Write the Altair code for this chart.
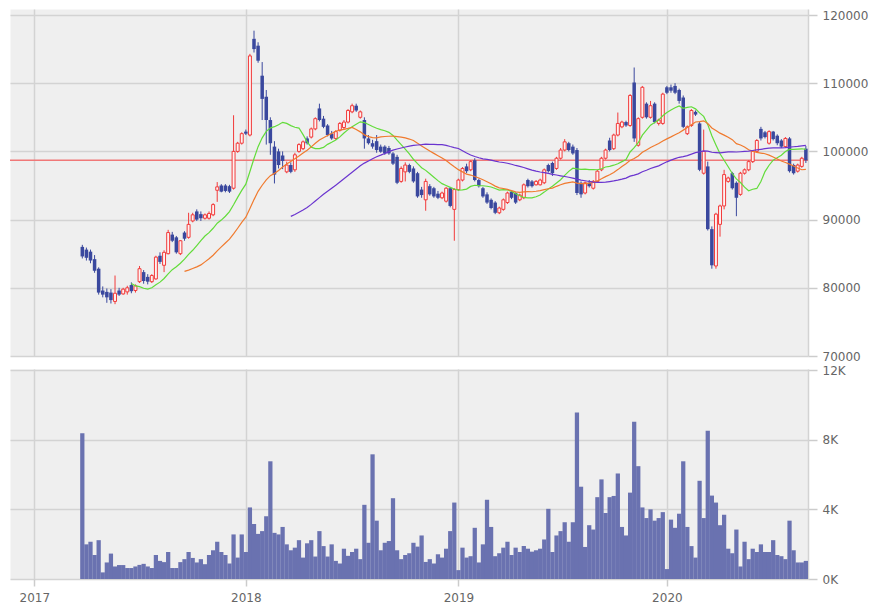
import altair as alt
import pandas as pd

# ---- weekly candles (prices in thousands of yen) ----
opens = [
    86.0, 85.6, 85.3, 84.2, 82.8, 79.6, 79.4, 79.3, 78.0, 79.6,
    79.1, 79.4, 80.4, 79.6, 80.9, 82.3, 81.6, 80.9, 81.3, 84.7,
    83.3, 85.0, 87.8, 87.4, 85.0, 88.1, 87.4, 89.8, 91.2, 90.8,
    90.2, 90.2, 90.7, 94.3, 95.0, 95.0, 94.9, 94.6, 100.0, 101.2,
    102.9, 102.4, 116.5, 115.5, 111.1, 108.0, 104.6, 100.7, 100.0, 99.4,
    97.0, 98.0, 97.3, 100.0, 100.4, 101.9, 102.1, 103.3, 106.3, 104.8,
    103.8, 102.6, 101.9, 103.1, 103.5, 104.3, 105.8, 106.7, 105.0, 104.6,
    101.9, 101.2, 101.5, 100.7, 100.7, 100.5, 99.7, 99.2, 95.6, 97.0,
    98.0, 97.5, 96.8, 94.4, 92.9, 94.9, 94.6, 93.8, 93.2, 92.7,
    94.6, 91.5, 94.4, 95.8, 97.8, 97.3, 98.7, 95.8,
    94.6, 93.7, 92.9, 92.5, 91.0, 91.5, 92.5, 94.1, 93.9, 92.9,
    93.2, 95.8, 95.6, 95.1, 95.1, 95.4, 98.0, 98.3, 97.5, 99.0,
    100.2, 101.2, 100.7, 100.2, 95.4, 93.9, 95.4, 94.6, 95.6, 97.3,
    99.0, 101.6, 100.4, 102.4, 103.6, 104.3, 103.8, 110.1, 100.9, 105.0,
    107.0, 105.0, 107.0, 104.1, 104.1, 109.4, 109.4, 109.6, 109.0, 107.9,
    102.6, 103.8, 105.8, 104.1, 96.8, 97.8, 88.6, 83.2, 89.3, 92.0,
    95.6, 96.8, 95.4, 93.7, 96.8, 97.3, 98.5, 100.0, 103.3, 102.8,
    101.2, 102.9, 102.3, 101.6, 100.7, 101.9, 98.0, 97.1, 97.8, 100.4,
]
highs = [
    86.3, 85.9, 85.6, 84.8, 83.0, 80.2, 79.9, 79.8, 81.8, 80.0,
    80.0, 80.3, 80.8, 80.5, 83.2, 82.6, 82.0, 82.0, 84.7, 85.2,
    85.5, 88.5, 88.2, 87.6, 87.0, 88.3, 91.0, 91.0, 91.5, 91.2,
    90.9, 91.2, 92.4, 95.5, 95.2, 95.2, 95.1, 105.3, 101.4, 102.8,
    103.2, 114.3, 117.7, 116.0, 113.1, 109.0, 105.0, 101.5, 100.4, 100.0,
    98.5, 98.4, 99.8, 101.2, 101.6, 102.2, 103.5, 105.0, 107.0, 105.2,
    104.0, 103.0, 103.1, 104.3, 104.6, 106.2, 107.0, 107.0, 106.0, 105.0,
    102.4, 101.7, 102.4, 101.0, 100.9, 100.8, 99.9, 99.5, 97.8, 98.4,
    98.2, 97.8, 97.0, 94.8, 96.0, 95.2, 94.8, 94.2, 94.1, 94.8,
    94.8, 94.6, 96.0, 97.7, 98.2, 98.7, 99.0, 96.0,
    94.8, 94.0, 93.1, 92.7, 91.9, 93.1, 94.1, 94.3, 94.0, 93.8,
    95.3, 96.0, 95.8, 95.8, 96.0, 97.5, 98.2, 98.5, 99.2, 100.5,
    101.8, 101.4, 101.0, 100.5, 95.6, 95.6, 95.8, 95.8, 97.3, 99.2,
    100.4, 102.0, 102.6, 105.7, 104.5, 104.5, 108.4, 112.3, 105.0, 109.6,
    107.2, 107.4, 107.2, 104.8, 108.6, 109.6, 109.8, 110.0, 109.2, 108.2,
    103.8, 106.2, 106.0, 104.3, 103.2, 98.5, 89.0, 91.0, 92.2, 97.3,
    96.3, 97.0, 95.6, 97.0, 97.5, 98.7, 100.2, 101.8, 103.6, 103.0,
    103.1, 103.0, 102.5, 101.8, 102.1, 102.1, 98.2, 98.2, 99.2, 100.8,
]
lows = [
    84.3, 84.0, 83.6, 82.2, 79.0, 78.6, 77.8, 77.7, 77.6, 78.8,
    79.0, 79.0, 79.2, 79.3, 80.7, 80.6, 80.5, 80.7, 81.2, 83.5,
    82.3, 84.9, 86.7, 85.0, 84.8, 86.9, 87.2, 89.6, 89.8, 89.8,
    90.0, 90.0, 90.5, 92.6, 94.0, 94.0, 93.9, 94.4, 99.8, 101.0,
    102.4, 102.2, 114.5, 113.0, 104.6, 101.0, 99.5, 95.3, 97.5, 97.4,
    96.8, 96.8, 97.0, 99.8, 100.2, 101.0, 101.9, 103.1, 104.4, 103.4,
    102.2, 101.7, 101.7, 102.9, 103.3, 104.1, 105.6, 105.8, 104.8, 100.4,
    101.0, 100.4, 99.8, 99.8, 99.5, 99.5, 98.0, 95.2, 95.4, 95.6,
    96.8, 95.4, 93.2, 93.2, 91.3, 93.5, 93.2, 93.0, 93.0, 92.5,
    91.8, 86.9, 94.2, 95.6, 96.8, 97.1, 95.6, 94.7,
    93.2, 92.3, 91.5, 90.8, 90.8, 91.3, 92.3, 93.0, 92.3, 92.7,
    93.0, 94.7, 94.7, 95.0, 95.0, 95.2, 96.9, 96.4, 97.3, 98.8,
    100.0, 100.0, 99.5, 93.6, 93.2, 93.7, 94.7, 94.4, 95.4, 97.1,
    98.8, 100.0, 100.2, 102.2, 103.4, 103.6, 103.6, 101.4, 100.7, 104.8,
    104.8, 104.8, 104.1, 103.8, 103.9, 108.4, 108.6, 108.4, 107.0, 103.4,
    102.4, 103.6, 105.2, 97.1, 96.6, 88.4, 82.8, 82.8, 87.5, 91.5,
    95.4, 94.4, 90.5, 93.5, 96.6, 97.1, 98.3, 99.8, 101.6, 101.9,
    101.0, 101.6, 100.9, 100.5, 100.5, 96.9, 96.6, 96.9, 97.6, 98.3,
]
closes = [
    84.6, 84.4, 84.0, 82.5, 79.3, 79.0, 78.6, 78.2, 79.2, 79.0,
    79.8, 80.0, 79.5, 80.3, 82.8, 81.0, 80.9, 81.8, 84.5, 83.8,
    85.2, 88.1, 86.9, 85.2, 86.9, 87.2, 89.3, 90.7, 90.0, 90.2,
    90.7, 90.9, 92.2, 94.8, 94.1, 94.2, 94.1, 100.0, 101.2, 102.6,
    102.6, 114.0, 115.0, 113.3, 107.7, 104.6, 101.2, 96.6, 98.0, 98.6,
    98.0, 97.0, 99.5, 101.0, 101.4, 101.2, 103.3, 104.8, 104.6, 103.6,
    102.4, 101.9, 102.9, 104.1, 104.3, 106.0, 106.7, 106.0, 105.8, 101.9,
    101.2, 100.7, 100.2, 99.95, 99.7, 99.7, 98.2, 95.4, 97.5, 98.0,
    97.0, 95.6, 93.4, 93.6, 95.6, 93.7, 93.4, 93.2, 93.9, 94.6,
    92.0, 94.4, 95.8, 97.5, 97.1, 98.5, 95.8, 94.9,
    93.4, 92.5, 91.7, 91.0, 91.7, 92.9, 93.9, 93.2, 92.5, 93.6,
    95.1, 94.9, 94.9, 95.6, 95.8, 97.3, 97.1, 96.8, 99.0, 100.2,
    101.4, 100.2, 99.7, 93.9, 93.7, 95.4, 94.9, 95.6, 97.1, 99.0,
    100.2, 100.2, 102.4, 104.1, 104.3, 103.8, 108.2, 101.9, 104.8, 109.4,
    105.0, 106.7, 104.3, 104.6, 108.4, 108.6, 108.9, 108.6, 107.4, 103.6,
    103.6, 106.0, 105.4, 97.3, 100.0, 88.6, 83.3, 90.8, 92.0, 96.6,
    96.1, 94.6, 93.2, 96.8, 97.3, 98.5, 100.0, 101.6, 101.9, 102.1,
    102.9, 101.8, 101.2, 100.7, 101.9, 97.1, 96.8, 98.0, 99.0, 98.7,
]
# ---- weekly volume (thousands of units) ----
volumes_k = [
    8.37, 1.99, 2.14, 1.38, 2.23, 0.38, 0.95, 1.46, 0.72, 0.80,
    0.80, 0.63, 0.63, 0.72, 0.81, 0.87, 0.72, 0.63, 1.38, 1.04,
    0.97, 1.55, 0.63, 0.63, 0.97, 1.14, 1.55, 1.21, 0.95, 1.14,
    0.85, 1.38, 1.65, 2.14, 1.55, 1.38, 0.89, 2.56, 1.23, 2.56,
    1.55, 4.11, 3.16, 2.59, 2.75, 3.60, 6.76, 2.65, 2.56, 2.99,
    1.99, 1.65, 1.80, 2.23, 1.23, 2.05, 2.23, 1.29, 2.75,
    1.89, 1.29, 1.99, 1.04, 0.89, 1.74, 1.33, 1.55, 1.74, 1.14,
    4.26, 2.08, 7.16, 3.35, 1.65, 2.08, 2.18, 4.64, 1.65, 1.14,
    1.38, 1.48, 2.08, 1.86, 2.50, 0.98, 1.14, 0.89, 1.42, 1.23,
    1.74, 2.75, 4.39, 0.51, 1.80, 1.23, 1.31, 2.94, 0.95, 1.99,
    4.55, 2.99, 1.31, 1.48, 1.80, 2.14, 1.38, 1.80, 1.55, 1.89,
    1.74, 1.57, 1.65, 1.74, 2.27, 4.03, 1.55, 2.50, 2.75,
    3.26, 2.14, 3.26, 9.56, 5.30, 1.84, 3.09, 2.84, 4.70, 5.72,
    3.79, 4.70, 4.77, 6.06, 2.99, 2.50, 4.96, 9.03, 6.48, 4.11,
    3.50, 4.00, 3.35, 3.50, 3.84, 0.57, 3.41, 2.94, 3.75, 6.76,
    2.99, 1.89, 1.23, 5.64, 3.50, 8.52, 4.79, 4.39, 3.09, 3.69,
    1.74, 1.48, 2.84, 0.72, 2.14, 1.14, 1.74, 1.55, 1.99, 1.55,
    1.55, 2.23, 1.38, 1.31, 1.14, 3.35, 1.65, 0.95, 0.95, 1.04,
]
ref_price = [98700]

year_ticks = [-11.75, 40, 92, 143]          # week index of each year's first week
year_labels = ["2017", "2018", "2019", "2020"]
price_ticks = [70000, 80000, 90000, 100000, 110000, 120000]
volume_ticks = [0, 4000, 8000, 12000]

n = len(closes)
assert len(opens) == len(highs) == len(lows) == n == len(volumes_k)

df = pd.DataFrame({
    "k": list(range(n)),
    "open": [v * 1000 for v in opens],
    "high": [v * 1000 for v in highs],
    "low": [v * 1000 for v in lows],
    "close": [v * 1000 for v in closes],
    "vol": [v * 1000 for v in volumes_k],
})
df["dir"] = ["up" if c >= o else "down" for o, c in zip(df["open"], df["close"])]

RED = "#f23a3a"
RED_FILL = "#fdf2f2"
BLUE = "#3a489e"
VOL_COLOR = "#6a72b0"
GRID = "#d3d3d3"

# year label expression
expr = f"'{year_labels[-1]}'"
for t, lab in reversed(list(zip(year_ticks[:-1], year_labels[:-1]))):
    expr = f"datum.value <= {t + 0.5} ? '{lab}' : " + expr

xs = alt.Scale(domain=[-17.69, 177.52], nice=False, zero=False)
ys = alt.Scale(domain=[70000, 120880], nice=False, zero=False)
vs = alt.Scale(domain=[0, 12060], nice=False, zero=False)

xax_top = alt.Axis(values=year_ticks, labels=False, ticks=False, domain=False,
                   grid=True, title=None)
xax_bot = alt.Axis(values=year_ticks, labelExpr=expr, ticks=True, tickSize=7,
                   labelPadding=6, domain=False, grid=True, title=None,
                   labelFlush=False)
yax_top = alt.Axis(orient="right", values=price_ticks, format="d", tickSize=9,
                   labelPadding=5, title=None, grid=True, domain=True,
                   labelFlush=False)
vax = alt.Axis(orient="right", values=volume_ticks,
               labelExpr="(datum.value / 1000) + 'K'", tickSize=9,
               labelPadding=5, title=None, grid=True, domain=True,
               labelFlush=False)

base = alt.Chart(df)

ref_line = alt.Chart(pd.DataFrame({"p": ref_price})).mark_rule(
    color="#f07878", strokeWidth=1.3
).encode(y=alt.Y("p:Q", scale=ys, axis=yax_top))

wicks = base.mark_rule(strokeWidth=1).encode(
    x=alt.X("k:Q", scale=xs, axis=xax_top),
    y=alt.Y("low:Q", scale=ys, axis=yax_top),
    y2="high:Q",
    color=alt.Color("dir:N", scale=alt.Scale(domain=["up", "down"], range=[RED, BLUE]),
                    legend=None),
)

down_bodies = base.transform_filter(alt.datum.dir == "down").transform_calculate(
    b0="datum.k - 0.43", b1="datum.k + 0.43"
).mark_rect(color=BLUE).encode(
    x=alt.X("b0:Q", scale=xs, axis=xax_top), x2="b1:Q",
    y=alt.Y("open:Q", scale=ys, axis=yax_top), y2="close:Q",
)

up_bodies = base.transform_filter(alt.datum.dir == "up").transform_calculate(
    b0="datum.k - 0.36", b1="datum.k + 0.36"
).mark_rect(fill=RED_FILL, stroke=RED, strokeWidth=1).encode(
    x=alt.X("b0:Q", scale=xs, axis=xax_top), x2="b1:Q",
    y=alt.Y("open:Q", scale=ys, axis=yax_top), y2="close:Q",
)


def ma_layer(span, color):
    return base.transform_window(
        window=[alt.WindowFieldDef(op="mean", field="close", **{"as": "ma"}),
                alt.WindowFieldDef(op="count", field="close", **{"as": "cnt"})],
        frame=[-(span - 1), 0],
        sort=[alt.SortField(field="k", order="ascending")],
    ).transform_filter(alt.datum.cnt >= span).mark_line(
        color=color, strokeWidth=1.2
    ).encode(
        x=alt.X("k:Q", scale=xs, axis=xax_top),
        y=alt.Y("ma:Q", scale=ys, axis=yax_top),
    )


top = alt.layer(
    ref_line, wicks, down_bodies, up_bodies,
    ma_layer(13, "#62dc3a"), ma_layer(26, "#f07a2e"), ma_layer(52, "#6a34cf"),
).properties(width=798, height=347)

bottom = base.transform_calculate(
    v0="datum.k - 0.52", v1="datum.k + 0.52", zero="0"
).mark_rect(color=VOL_COLOR).encode(
    x=alt.X("v0:Q", scale=xs, axis=xax_bot), x2="v1:Q",
    y=alt.Y("vol:Q", scale=vs, axis=vax), y2="zero:Q",
).properties(width=798, height=210)

chart = alt.vconcat(top, bottom, spacing=13, bounds="flush").properties(
    padding=0
).configure_view(
    fill="#efefef", stroke="transparent"
).configure_axis(
    labelFont="DejaVu Sans", labelFontSize=12, labelColor="#666666",
    gridColor=GRID, gridWidth=1.5, tickColor="#cccccc", tickWidth=1.5,
    domainColor=GRID, domainWidth=1.5,
)

chart.save("out.html", embed_options={"renderer": "svg", "actions": False})
